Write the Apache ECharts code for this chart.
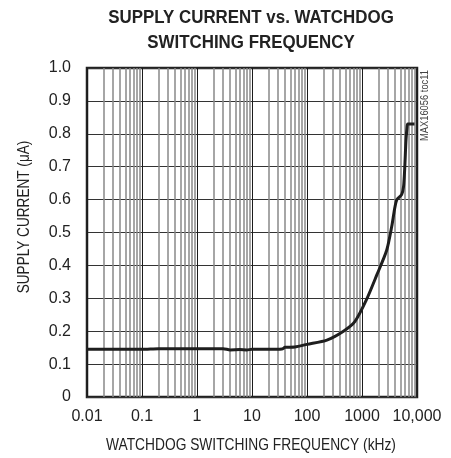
<!DOCTYPE html>
<html lang="en">
<head>
<meta charset="utf-8">
<title>Supply current vs watchdog switching frequency</title>
<script src="https://cdn.jsdelivr.net/npm/echarts@6/dist/echarts.min.js"></script>
<style>
  html, body { margin: 0; padding: 0; background: #fff; }
  #chart { width: 451px; height: 458px; }
</style>
</head>
<body>
<div id="chart"></div>
<script>
// frequency (kHz) and supply current (uA)
var freqKHz = [0.01, 0.1, 0.2, 1, 3, 4, 6, 8, 10, 20, 35, 40, 60, 100, 230, 460, 740, 1200, 1860, 2820, 3470, 3900, 4300, 5250, 5700, 6000, 6300, 6600, 6800, 9000];
var currentUA = [0.145, 0.145, 0.147, 0.147, 0.147, 0.143, 0.144, 0.143, 0.145, 0.145, 0.146, 0.151, 0.152, 0.16, 0.173, 0.2, 0.229, 0.295, 0.371, 0.447, 0.518, 0.57, 0.60, 0.615, 0.64, 0.70, 0.78, 0.82, 0.83, 0.83];

var xTickLabels = ['0.01', '0.1', '1', '10', '100', '1000', '10,000'];
var yTickLabels = ['0', '0.1', '0.2', '0.3', '0.4', '0.5', '0.6', '0.7', '0.8', '0.9', '1.0'];
var decades = [0.01, 0.1, 1, 10, 100, 1000];
var minorSteps = [2, 3, 4, 5, 6, 7, 8, 9];

// no condensed face installed, so titles get squeezed with scaleX below
var font = "'Liberation Sans', Arial, sans-serif";

// minor (2..9) grid lines of the log axis
var minorLines = [];
decades.forEach(function (d) {
    minorSteps.forEach(function (m) {
        minorLines.push({ xAxis: d * m });
    });
});

var chart = echarts.init(document.getElementById('chart'), null, { renderer: 'canvas' });

var option = {
    animation: false,
    grid: {
        left: 87, right: 34, top: 68, bottom: 61,
        show: true, borderColor: '#222', borderWidth: 2.5, backgroundColor: 'transparent'
    },
    xAxis: {
        type: 'log',
        logBase: 10,
        min: 0.01,
        max: 10000,
        splitNumber: 6,
        axisLine: { show: false },
        axisTick: { show: false },
        splitLine: { show: true, lineStyle: { color: '#1a1a1a', width: 1 } },
        axisLabel: {
            margin: 12,
            color: '#222',
            fontSize: 16,
            fontFamily: font,
            formatter: function (v) {
                var i = Math.round(Math.log10(v)) + 2;
                return xTickLabels[i];
            }
        }
    },
    yAxis: {
        type: 'value',
        min: 0,
        max: 1,
        interval: 0.1,
        axisLine: { show: false },
        axisTick: { show: false },
        splitLine: { show: true, lineStyle: { color: '#333', width: 1 } },
        axisLabel: {
            margin: 16,
            color: '#222',
            fontSize: 16,
            fontFamily: font,
            formatter: function (v) {
                return yTickLabels[Math.round(v * 10)];
            }
        }
    },
    series: [
        {
            type: 'line',
            data: [],
            silent: true,
            markLine: {
                silent: true,
                symbol: 'none',
                animation: false,
                label: { show: false },
                lineStyle: { color: '#888', width: 1.5, type: 'solid' },
                data: minorLines
            }
        },
        {
            type: 'line',
            data: freqKHz.map(function (f, i) { return [f, currentUA[i]]; }),
            showSymbol: false,
            smooth: 0.25,
            lineStyle: { color: '#1e1e1e', width: 3 },
            z: 5
        }
    ],
    graphic: [
        { type: 'text', x: 251, y: 18, scaleX: 0.89, style: { text: 'SUPPLY CURRENT vs. WATCHDOG', font: "bold 19px " + font, fill: '#222', textAlign: 'center', textVerticalAlign: 'middle' } },
        { type: 'text', x: 251, y: 43, scaleX: 0.89, style: { text: 'SWITCHING FREQUENCY', font: "bold 19px " + font, fill: '#222', textAlign: 'center', textVerticalAlign: 'middle' } },
        { type: 'text', x: 251, y: 445, scaleX: 0.81, style: { text: 'WATCHDOG SWITCHING FREQUENCY (kHz)', font: "17px " + font, fill: '#222', textAlign: 'center', textVerticalAlign: 'middle' } },
        { type: 'text', x: 25, y: 217, rotation: Math.PI / 2, scaleX: 0.85, style: { text: 'SUPPLY CURRENT (\u03bcA)', font: "16px " + font, fill: '#222', textAlign: 'center', textVerticalAlign: 'middle' } },
        { type: 'text', x: 425, y: 70, rotation: Math.PI / 2, scaleX: 0.85, style: { text: 'MAX16056 toc11', font: "11px " + font, fill: '#444', textAlign: 'right', textVerticalAlign: 'middle' } }
    ]
};

chart.setOption(option);
</script>
</body>
</html>
